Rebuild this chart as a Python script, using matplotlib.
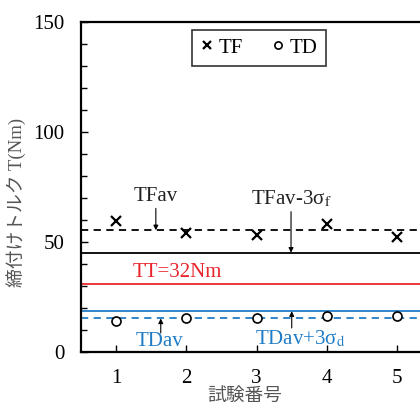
import numpy as np
import matplotlib
matplotlib.use('Agg')
import matplotlib.pyplot as plt

plt.rcParams['font.family'] = ['Liberation Serif', 'Noto Sans CJK JP']
plt.rcParams['mathtext.fontset'] = 'stix'

# data
trial = [1, 2, 3, 4, 5]
tf = [59.4, 54.1, 53.3, 58.3, 52.3]
td = [13.9, 15.4, 15.6, 16.2, 16.4]
tf_av = 55.3
tf_low = 45.1
tt = 31.0
td_high = 18.5
td_av = 15.2

blue = '#1f7cc6'
red = '#e8262e'

fig = plt.figure(figsize=(4.2, 4.05), dpi=100)
ax = fig.add_axes([0.193, 0.131, 0.836, 0.815])

ax.axhline(tf_av, color='k', lw=1.3, ls=(0, (4, 3)))
ax.axhline(tf_low, color='k', lw=1.3)
ax.axhline(tt, color=red, lw=1.3)
ax.axhline(td_high, color=blue, lw=1.3)
ax.axhline(td_av, color=blue, lw=1.3, ls=(0, (4, 3)))

ax.plot(trial, tf, 'x', color='k', ms=6.5, mew=1.6, label='TF')
ax.plot(trial, td, 'o', mfc='white', mec='k', ms=6.5, mew=1.2, label='TD')

ax.set_xlim(0.5, 5.5)
ax.set_ylim(0, 150)
ax.set_xticks(trial)
ax.set_yticks([0, 50, 100, 150])
ax.set_yticks(np.arange(0, 151, 10), minor=True)
ax.tick_params(axis='both', direction='in', labelsize=15, pad=12, length=5, width=1)
ax.tick_params(axis='y', which='minor', direction='in', length=4, width=1)
for s in ax.spines.values():
    s.set_linewidth(1.6)

arr = dict(arrowstyle='-|>', color='k', lw=0.8, mutation_scale=7, shrinkA=0, shrinkB=0)
ax.annotate('TFav', xy=(1.565, tf_av), xytext=(1.565, 66.5), fontsize=15, color='#222222',
            ha='center', va='bottom', arrowprops=arr)
ax.annotate(r'TFav-3σ$_{\mathrm{f}}$', xy=(3.49, tf_low), xytext=(3.49, 65), fontsize=15,
            color='#222222', ha='center', va='bottom', arrowprops=arr)
ax.text(1.24, 35.9, 'TT=32Nm', color=red, fontsize=15, va='center', ha='left')
ax.annotate('', xy=(1.635, td_av), xytext=(1.635, 8.6), arrowprops=arr)
ax.text(1.27, 4.7, 'TDav', color=blue, fontsize=15, va='center', ha='left')
ax.annotate('', xy=(3.5, td_high), xytext=(3.5, 10.9), arrowprops=arr)
ax.text(2.98, 5.9, r'TDav+3σ$_{\mathrm{d}}$', color=blue, fontsize=15, va='center', ha='left')

leg = ax.legend(loc='upper center', bbox_to_anchor=(0.507, 0.976), ncol=2, fontsize=15,
                frameon=True, fancybox=False, edgecolor='k', handlelength=0.6,
                handletextpad=0.25, columnspacing=1.4, borderpad=0.4, borderaxespad=0,
                markerscale=0.8)
leg.get_frame().set_linewidth(1.2)

fig.text(0.038, 0.5, '締付けトルク T(Nm)', rotation=90, fontsize=13.5, color='#555555',
         ha='center', va='center')
fig.text(0.583, 0.02, '試験番号', fontsize=13.5, color='#555555', ha='center', va='center')

fig.savefig('out.png', dpi=100)
